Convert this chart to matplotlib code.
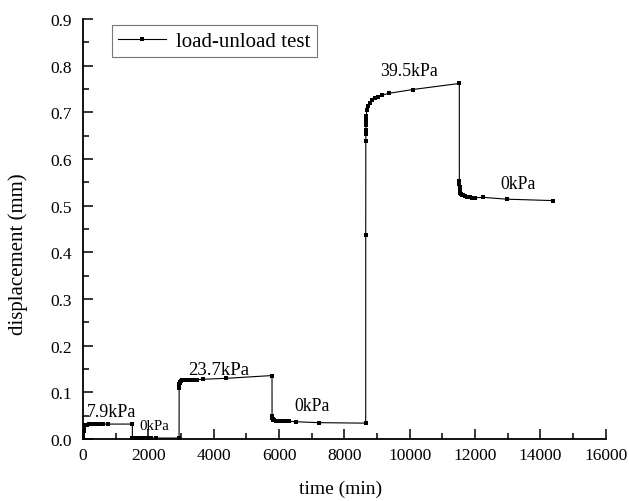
import matplotlib
matplotlib.use("Agg")
import matplotlib.pyplot as plt
from matplotlib.ticker import MultipleLocator, FormatStrFormatter

plt.rcParams['font.family'] = ['Liberation Serif', 'DejaVu Serif']

# time (min)
time_min = [
    0, 2, 5, 10, 15, 20, 30, 45, 60, 90, 120, 180, 240, 300, 360, 420, 480, 540, 600, 775, 1510,
    1512, 1520, 1540, 1600, 1660, 1720, 1780, 1840, 1900, 1960, 2020, 2080, 2235,
    2940, 2942, 2945, 2950, 2960, 2975, 3000, 3030, 3060, 3120, 3180, 3240, 3300, 3360, 3420, 3480,
    3660, 4370, 5785,
    5786, 5790, 5800, 5820, 5850, 5900, 5960, 6020, 6080, 6140, 6200, 6260, 6320, 6510, 7224, 8653,
    8654, 8656, 8658, 8660, 8663, 8666, 8670, 8675, 8684, 8720, 8785, 8860, 8938, 9040, 9143,
    9376, 10090, 11518,
    11519, 11521, 11524, 11528, 11535, 11545, 11560, 11590, 11630, 11693, 11760, 11840, 11920,
    11999, 12234, 12969, 14378,
]
# displacement (mm)
displacement = [
    0.000, 0.004, 0.008, 0.012, 0.018, 0.025, 0.029, 0.030, 0.031, 0.031, 0.031, 0.032, 0.032,
    0.032, 0.032, 0.032, 0.032, 0.032, 0.032, 0.032, 0.032,
    0.003, 0.002, 0.002, 0.002, 0.002, 0.002, 0.002, 0.002, 0.002, 0.002, 0.002, 0.002, 0.002,
    0.002, 0.110, 0.115, 0.118, 0.121, 0.123, 0.125, 0.126, 0.126, 0.127, 0.127, 0.127, 0.127,
    0.127, 0.127, 0.127,
    0.128, 0.130, 0.136,
    0.050, 0.046, 0.043, 0.041, 0.040, 0.039, 0.039, 0.038, 0.038, 0.038, 0.038, 0.038, 0.038,
    0.037, 0.035, 0.034,
    0.437, 0.639, 0.653, 0.663, 0.672, 0.680, 0.686, 0.692, 0.705, 0.713, 0.721, 0.726, 0.731,
    0.734, 0.737,
    0.741, 0.749, 0.762,
    0.553, 0.546, 0.540, 0.535, 0.531, 0.528, 0.525, 0.523, 0.522, 0.521, 0.519, 0.518, 0.517,
    0.517, 0.518, 0.514, 0.511,
]

stage_labels = ["7.9kPa", "0kPa", "23.7kPa", "0kPa", "39.5kPa", "0kPa"]
label_x = [110, 1723, 3214, 6468, 9091, 12764]
label_y = [0.058, 0.030, 0.148, 0.071, 0.789, 0.548]
label_size = [13, 10.7, 13.5, 12.8, 12.8, 12.8]

fig = plt.figure(figsize=(6.29, 5.02), dpi=100)
ax = fig.add_axes([0.132, 0.1235, 0.831, 0.8365])

ax.plot(time_min, displacement, color='black', linewidth=0.8, marker='s',
        markersize=3.5, markeredgewidth=0, label='load-unload test')

for s, x, y, fs in zip(stage_labels, label_x, label_y, label_size):
    ax.text(x, y, s, fontsize=fs, ha='left', va='center')

ax.set_xlim(0, 16000)
ax.set_ylim(0, 0.9)
ax.xaxis.set_major_locator(MultipleLocator(2000))
ax.xaxis.set_minor_locator(MultipleLocator(1000))
ax.yaxis.set_major_locator(MultipleLocator(0.1))
ax.yaxis.set_minor_locator(MultipleLocator(0.05))
ax.yaxis.set_major_formatter(FormatStrFormatter('%.1f'))

ax.spines['top'].set_visible(False)
ax.spines['right'].set_visible(False)
ax.spines['left'].set_linewidth(1.3)
ax.spines['bottom'].set_linewidth(1.3)
ax.tick_params(which='both', direction='in', labelsize=12.5, width=1.1)
ax.tick_params(which='major', length=7)
ax.tick_params(which='minor', length=4)
ax.tick_params(axis='y', which='major', pad=8)
ax.tick_params(axis='x', which='major', pad=6)

ax.set_xlabel('time (min)', fontsize=14)
ax.set_ylabel('displacement (mm)', fontsize=15)
ax.xaxis.set_label_coords(0.492, -0.098)
ax.yaxis.set_label_coords(-0.105, 0.443)

leg = ax.legend(loc='upper left', bbox_to_anchor=(0.055, 0.985), borderaxespad=0,
                fontsize=15, frameon=True, fancybox=False, handlelength=2.3,
                borderpad=0.3, handletextpad=0.5)
leg.get_frame().set_edgecolor('#555555')
leg.get_frame().set_linewidth(0.8)

fig.savefig('out.png', dpi=100)
